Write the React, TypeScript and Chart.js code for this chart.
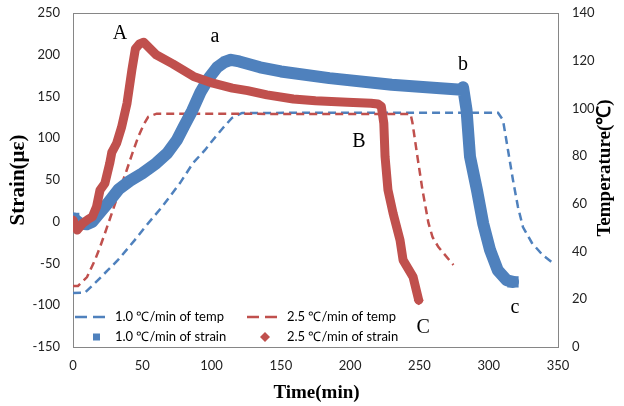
import React, { useEffect, useRef } from "react";
import { Chart, registerables } from "chart.js";

Chart.register(...registerables);

// Temperature curves: [time (min), temperature (℃)]
const temp10: [number, number][] = [
  [0, 22.6], [8.7, 22.8], [15.9, 26.8], [25.3, 32.3], [32.5, 36.5], [44.7, 44.9],
  [52, 50.3], [64.2, 58.7], [77.2, 68.7], [86.6, 77.1], [95.3, 82.6], [101, 86.8],
  [108.2, 91.8], [114.7, 96], [122, 98.1], [200, 98.2], [306.7, 98.2], [310.3, 95.1],
  [313.9, 82.6], [317.5, 70], [321.1, 58.7], [324.7, 50.3], [331.2, 43.6], [339, 38.5],
  [346.4, 35.2],
];
const temp25: [number, number][] = [
  [0, 25.6], [3.6, 25.6], [10.1, 29.3], [15.9, 36.5], [19.5, 41.9], [23.1, 47.8],
  [28.1, 56.2], [33.5, 65.5], [38.8, 74.2], [43, 81.5], [47.1, 88.1], [51, 93.2],
  [54.3, 96.5], [60.4, 97.8], [150, 97.7], [243.6, 97.7], [245, 93.9], [248.6, 79.6],
  [252.2, 65.8], [256.5, 52], [259.5, 46], [263.7, 41.9], [274.5, 34.4],
];

// Strain curves: [time (min), strain (με)]
const strain10: [number, number][] = [
  [0.5, 4], [5, -2], [10, -3], [14, 0], [20, 12], [25, 22], [33, 39], [41, 49],
  [50, 58], [60, 70], [68, 82], [75, 98], [80, 114], [86, 133], [92, 155], [98, 172],
  [104, 185], [109, 191], [114, 194], [120, 192], [135, 185], [150, 180], [185, 172],
  [230, 164], [265, 160], [280.5, 158], [281.5, 161], [284, 134], [286.5, 78],
  [291.5, 38], [296, -2], [301, -34], [306.5, -58], [313, -70], [317.5, -72],
];
const strain25: [number, number][] = [
  [0, 2], [3, -10], [7, -2], [11, 3], [14, 6], [17, 18], [19.5, 38], [23, 46],
  [26.5, 70], [28, 83], [31.5, 94], [35, 113], [39, 142], [42.5, 182], [45, 207],
  [48, 213], [51, 215], [60, 200], [72, 189], [87, 174], [101, 166], [115, 160],
  [126, 157], [140, 152], [159, 147], [175, 145], [198, 143], [215, 142], [220, 141],
  [222.5, 138], [224.3, 118], [225.2, 78], [227.3, 38], [231, 10], [236, -22],
  [238.2, -46], [245.4, -66], [249.5, -94],
];

const legendLabels = [
  "1.0 ℃/min of temp",
  "2.5 ℃/min of temp",
  "1.0 ℃/min of strain",
  "2.5 ℃/min of strain",
];

// Point letters: text, time, strain (baseline)
const pointLetters: [string, number, number][] = [
  ["A", 33.9, 219.4],
  ["a", 102.5, 215.6],
  ["b", 281.4, 181.7],
  ["B", 206.4, 89.9],
  ["C", 252.7, -133.2],
  ["c", 319, -109.3],
];

const xTitle = "Time(min)";
const yTitle = "Strain(με)";
const y1Title = "Temperature(℃)";

const BLUE = "#4F81BD";
const RED = "#C0504D";
const SERIF = "'Liberation Serif', 'Times New Roman', serif";
const SANS = "Lato, 'Liberation Sans', sans-serif";

const toXY = (arr: [number, number][]) => arr.map(([x, y]) => ({ x, y }));

const overlay = {
  id: "overlay",
  beforeDatasetsDraw(chart: any) {
    const { ctx, chartArea: a } = chart;
    ctx.save();
    ctx.strokeStyle = "#868686";
    ctx.lineWidth = 1;
    ctx.strokeRect(a.left + 0.5, a.top + 0.5, a.right - a.left, a.bottom - a.top);
    ctx.restore();
  },
  afterDraw(chart: any) {
    const { ctx, chartArea: a, scales } = chart;
    ctx.save();
    // Axis titles
    ctx.fillStyle = "#000";
    ctx.font = `bold 19px ${SERIF}`;
    ctx.textAlign = "center";
    ctx.textBaseline = "middle";
    ctx.fillText(xTitle, (a.left + a.right) / 2 + 1, 393);
    ctx.save();
    ctx.translate(605, 168);
    ctx.rotate(-Math.PI / 2);
    ctx.fillText(y1Title, 0, 0);
    ctx.restore();
    ctx.save();
    ctx.font = `bold 21px ${SERIF}`;
    ctx.translate(19, 180);
    ctx.rotate(-Math.PI / 2);
    ctx.fillText(yTitle, 0, 0);
    ctx.restore();

    // Point letters
    ctx.font = `20px ${SERIF}`;
    ctx.textBaseline = "alphabetic";
    for (const [t, tx, sy] of pointLetters) {
      ctx.fillText(t, scales.x.getPixelForValue(tx), scales.y.getPixelForValue(sy));
    }

    // Legend (inside plot, bottom-left)
    const row1 = a.bottom - 30;
    const row2 = a.bottom - 10;
    const col1 = a.left + 2;
    const col2 = a.left + 174;
    ctx.font = `13px ${SANS}`;
    ctx.textAlign = "left";
    ctx.textBaseline = "middle";
    const dashLine = (x: number, y: number, color: string) => {
      ctx.save();
      ctx.strokeStyle = color;
      ctx.lineWidth = 2.5;
      ctx.setLineDash([12, 6]);
      ctx.beginPath();
      ctx.moveTo(x, y);
      ctx.lineTo(x + 30, y);
      ctx.stroke();
      ctx.restore();
    };
    dashLine(col1, row1, BLUE);
    dashLine(col2, row1, RED);
    ctx.fillStyle = BLUE;
    ctx.fillRect(col1 + 18, row2 - 3.5, 7, 7);
    ctx.fillStyle = RED;
    ctx.beginPath();
    const dx = col2 + 18, dy = row2;
    ctx.moveTo(dx, dy - 5);
    ctx.lineTo(dx + 5, dy);
    ctx.lineTo(dx, dy + 5);
    ctx.lineTo(dx - 5, dy);
    ctx.closePath();
    ctx.fill();
    ctx.fillStyle = "#000";
    ctx.fillText(legendLabels[0], col1 + 40, row1);
    ctx.fillText(legendLabels[1], col2 + 40, row1);
    ctx.fillText(legendLabels[2], col1 + 40, row2);
    ctx.fillText(legendLabels[3], col2 + 40, row2);
    ctx.restore();
  },
};

export default function App() {
  const ref = useRef<HTMLCanvasElement>(null);
  useEffect(() => {
    if (!ref.current) return;
    const tickFont = { family: SANS, size: 13 };
    const chart = new Chart(ref.current, {
      type: "line",
      data: {
        datasets: [
          {
            label: legendLabels[3],
            data: toXY(strain25),
            yAxisID: "y",
            borderColor: RED,
            backgroundColor: RED,
            borderWidth: 9,
            borderJoinStyle: "round",
            borderCapStyle: "round",
            pointStyle: "rectRot",
            pointRadius: (c: any) => (c.dataIndex === strain25.length - 1 ? 5 : 0),
            pointBorderWidth: 0,
            fill: false,
            order: 0,
          },
          {
            label: legendLabels[2],
            data: toXY(strain10),
            yAxisID: "y",
            borderColor: BLUE,
            backgroundColor: BLUE,
            borderWidth: 12,
            borderJoinStyle: "round",
            borderCapStyle: "round",
            pointStyle: "rect",
            pointRadius: (c: any) =>
              c.dataIndex === 0 || c.dataIndex === strain10.length - 1 ? 8 : 0,
            pointBorderWidth: 0,
            fill: false,
            order: 1,
          },
          {
            label: legendLabels[1],
            data: toXY(temp25),
            yAxisID: "y1",
            borderColor: RED,
            borderWidth: 2.5,
            borderDash: [8, 5],
            pointRadius: 0,
            fill: false,
            order: 2,
          },
          {
            label: legendLabels[0],
            data: toXY(temp10),
            yAxisID: "y1",
            borderColor: BLUE,
            borderWidth: 2.5,
            borderDash: [8, 5],
            pointRadius: 0,
            fill: false,
            order: 3,
          },
        ],
      },
      options: {
        responsive: false,
        animation: false,
        devicePixelRatio: 1,
        layout: { padding: { top: 13, left: 0, right: 0, bottom: 0 } },
        plugins: { legend: { display: false }, tooltip: { enabled: false } },
        scales: {
          x: {
            type: "linear",
            min: 0,
            max: 350,
            grid: { display: false, drawTicks: false },
            border: { display: false },
            ticks: { stepSize: 50, font: tickFont, color: "#222", padding: 11, maxRotation: 0 },
            afterFit: (s: any) => {
              s.height = 59;
              s.paddingLeft = 0;
              s.paddingRight = 0;
            },
          },
          y: {
            type: "linear",
            position: "left",
            min: -150,
            max: 250,
            grid: { display: false, drawTicks: false },
            border: { display: false },
            ticks: { stepSize: 50, font: tickFont, color: "#222", padding: 13 },
            afterFit: (s: any) => {
              s.width = 73;
              s.paddingTop = 0;
              s.paddingBottom = 0;
            },
          },
          y1: {
            type: "linear",
            position: "right",
            min: 0,
            max: 140,
            grid: { display: false, drawTicks: false },
            border: { display: false },
            ticks: { stepSize: 20, font: tickFont, color: "#222", padding: 14 },
            afterFit: (s: any) => {
              s.width = 66;
              s.paddingTop = 0;
              s.paddingBottom = 0;
            },
          },
        },
      } as any,
      plugins: [overlay],
    });
    return () => chart.destroy();
  }, []);
  return (
    <div style={{ position: "absolute", left: 0, top: 0, width: 624, height: 406, background: "#fff" }}>
      <canvas ref={ref} width={624} height={406} />
    </div>
  );
}
